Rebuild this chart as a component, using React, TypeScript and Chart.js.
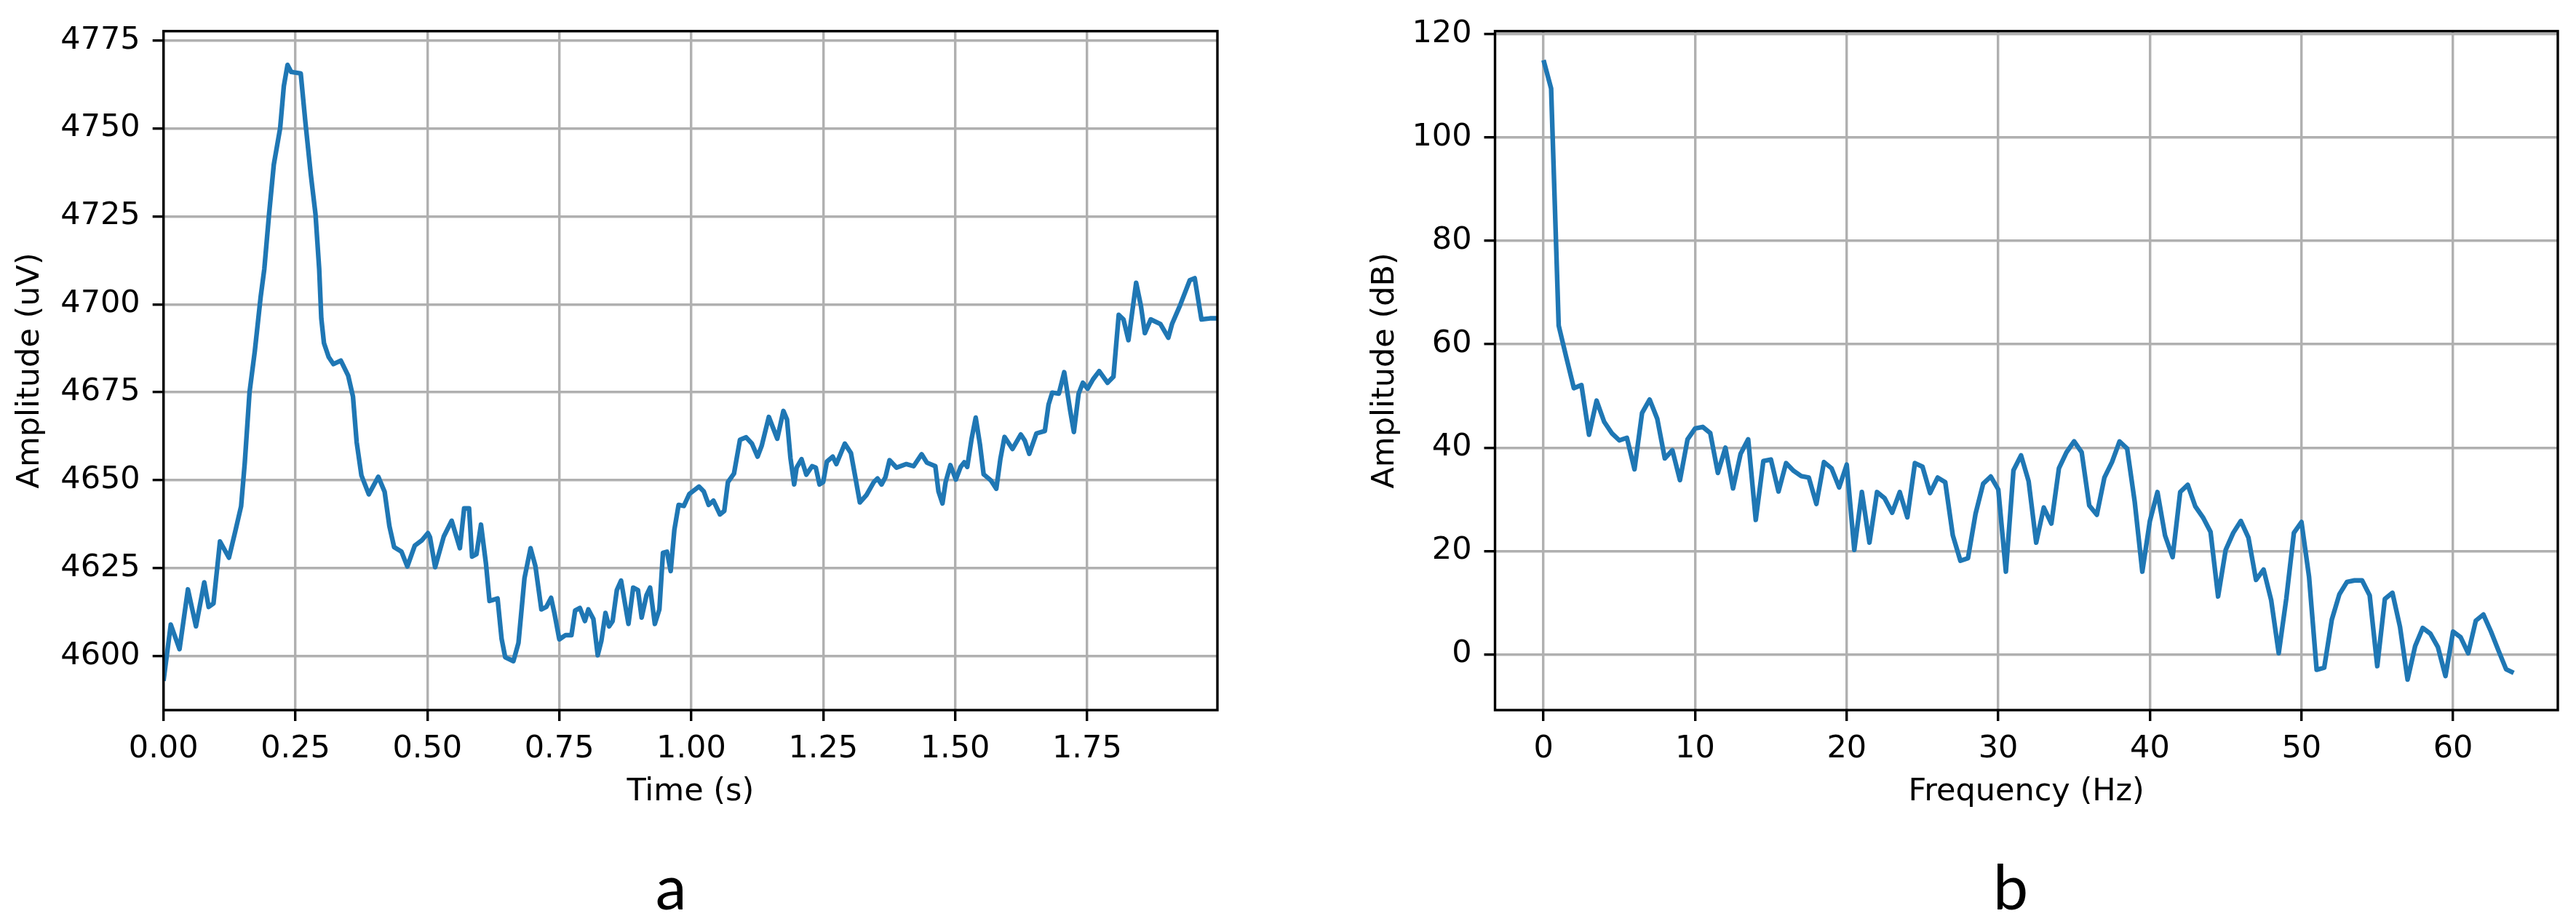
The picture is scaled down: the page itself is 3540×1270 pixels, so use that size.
import React, { useEffect, useRef } from "react";
import { Chart, registerables } from "chart.js";

Chart.register(...registerables);

// ---- Panel a: EEG signal in time domain ----
const timeSec = [
  0.0, 0.0138, 0.0303, 0.0463, 0.0615, 0.0772, 0.0855, 0.0947, 0.107, 0.124,
  0.136, 0.147, 0.154, 0.163, 0.173, 0.184, 0.191, 0.2, 0.209, 0.221,
  0.228, 0.235, 0.242, 0.26, 0.269, 0.279, 0.288, 0.295, 0.299, 0.304,
  0.313, 0.322, 0.336, 0.35, 0.359, 0.366, 0.375, 0.389, 0.407, 0.419,
  0.428, 0.437, 0.451, 0.462, 0.476, 0.49, 0.501, 0.505, 0.5147, 0.531,
  0.546, 0.5616, 0.5696, 0.579, 0.5847, 0.593, 0.6016, 0.611, 0.6177, 0.633,
  0.6406, 0.6475, 0.663, 0.6726, 0.684, 0.6955, 0.7047, 0.716, 0.7253, 0.7344,
  0.741, 0.75, 0.762, 0.773, 0.78, 0.789, 0.7985, 0.805, 0.8145, 0.8228,
  0.8297, 0.8375, 0.8443, 0.851, 0.859, 0.867, 0.881, 0.89, 0.899, 0.906,
  0.9153, 0.922, 0.931, 0.9396, 0.9464, 0.954, 0.961, 0.968, 0.976, 0.986,
  0.9963, 1.0146, 1.0238, 1.033, 1.042, 1.0544, 1.0626, 1.0695, 1.081, 1.0923,
  1.104, 1.115, 1.1257, 1.1335, 1.147, 1.163, 1.1746, 1.1814, 1.188, 1.195,
  1.1997, 1.209, 1.218, 1.229, 1.236, 1.243, 1.25, 1.257, 1.268, 1.275,
  1.291, 1.3026, 1.3117, 1.3195, 1.332, 1.346, 1.353, 1.3606, 1.368, 1.3757,
  1.389, 1.4077, 1.4214, 1.4365, 1.4465, 1.4625, 1.4685, 1.476, 1.482, 1.491,
  1.5014, 1.5105, 1.5173, 1.523, 1.531, 1.539, 1.547, 1.554, 1.5675, 1.578,
  1.5858, 1.5936, 1.6086, 1.6245, 1.632, 1.6405, 1.654, 1.67, 1.677, 1.684,
  1.6966, 1.7067, 1.718, 1.725, 1.734, 1.742, 1.751, 1.7614, 1.773, 1.7888,
  1.8, 1.81, 1.819, 1.8284, 1.843, 1.852, 1.8595, 1.8706, 1.889, 1.904,
  1.911, 1.926, 1.9445, 1.954, 1.9667, 1.983, 1.997,
];

const amplitudeUv = [
  4593, 4609, 4602, 4619, 4608.5, 4621, 4614, 4615, 4632.6, 4628,
  4635.5, 4642.6, 4655, 4675, 4686.7, 4702, 4710, 4725.6, 4739.7, 4750,
  4762, 4768, 4766, 4765.6, 4751.5, 4737, 4725.6, 4710, 4696, 4689,
  4685, 4683, 4684, 4679.7, 4673.8, 4660.8, 4651.4, 4646, 4651, 4646.7,
  4637, 4631, 4629.7, 4625.5, 4631.4, 4633, 4635, 4633.8, 4625.3, 4634,
  4638.5, 4630.7, 4642, 4642, 4628.3, 4629, 4637.4, 4626.3, 4615.7, 4616.4,
  4605, 4599.7, 4598.6, 4603.8, 4622.2, 4630.7, 4625.6, 4613.3, 4614, 4616.6,
  4612, 4604.8, 4606, 4606, 4613, 4613.7, 4610, 4613.3, 4610.6, 4600.3,
  4604.4, 4612.3, 4608.5, 4610, 4618.8, 4621.5, 4609.2, 4619.5, 4618.8, 4611,
  4617.4, 4619.5, 4609.2, 4613.3, 4629.4, 4629.7, 4624.2, 4635.9, 4643, 4642.7,
  4646.1, 4648.2, 4646.8, 4643, 4644.2, 4640.3, 4641.3, 4649.5, 4651.9, 4661.5,
  4662.2, 4660.4, 4656.7, 4659.8, 4668, 4661.8, 4669.7, 4667.3, 4656.3, 4648.8,
  4653.6, 4656, 4651.6, 4654, 4653.6, 4648.8, 4649.5, 4655.3, 4656.7, 4654.6,
  4660.4, 4657.7, 4650.2, 4643.7, 4645.8, 4649.5, 4650.5, 4648.8, 4650.9, 4655.7,
  4653.6, 4654.6, 4654, 4657.4, 4655, 4654, 4646.8, 4643.4, 4649.5, 4654.3,
  4650.2, 4653.8, 4655.1, 4653.8, 4661.6, 4667.8, 4660.2, 4651.7, 4650, 4647.6,
  4656.1, 4662.3, 4658.9, 4663, 4661.3, 4657.5, 4663.3, 4664, 4671.5, 4674.9,
  4674.6, 4680.7, 4669.8, 4663.7, 4674.6, 4677.7, 4676, 4678.7, 4681, 4677.7,
  4679.4, 4697, 4695.7, 4689.8, 4706.1, 4699.6, 4691.8, 4695.7, 4694.4, 4690.5,
  4694.4, 4699.6, 4706.8, 4707.4, 4695.7, 4696, 4696,
];

// ---- Panel b: spectrum ----
const freqHz = [
  0, 0.5, 1, 1.5, 2, 2.5, 3, 3.5, 4, 4.5, 5, 5.5, 6, 6.5, 7, 7.5, 8, 8.5, 9, 9.5,
  10, 10.5, 11, 11.5, 12, 12.5, 13, 13.5, 14, 14.5, 15, 15.5, 16, 16.5, 17, 17.5, 18, 18.5, 19, 19.5,
  20, 20.5, 21, 21.5, 22, 22.5, 23, 23.5, 24, 24.5, 25, 25.5, 26, 26.5, 27, 27.5, 28, 28.5, 29, 29.5,
  30, 30.5, 31, 31.5, 32, 32.5, 33, 33.5, 34, 34.5, 35, 35.5, 36, 36.5, 37, 37.5, 38, 38.5, 39, 39.5,
  40, 40.5, 41, 41.5, 42, 42.5, 43, 43.5, 44, 44.5, 45, 45.5, 46, 46.5, 47, 47.5, 48, 48.5, 49, 49.5,
  50, 50.5, 51, 51.5, 52, 52.5, 53, 53.5, 54, 54.5, 55, 55.5, 56, 56.5, 57, 57.5, 58, 58.5, 59, 59.5,
  60, 60.5, 61, 61.5, 62, 62.5, 63, 63.5, 64,
];

const amplitudeDb = [
  115, 109.5, 63.6, 57.5, 51.5, 52.1, 42.5, 49.1, 45, 42.8, 41.4, 41.9, 35.8, 46.7, 49.3, 45.6, 37.9, 39.5, 33.7, 41.6,
  43.7, 44, 42.8, 35.1, 40, 32.1, 38.8, 41.6, 26, 37.4, 37.7, 31.5, 37, 35.5, 34.5, 34.2, 29.1, 37.2, 36, 32.3,
  36.7, 20.2, 31.4, 21.6, 31.4, 30.2, 27.4, 31.4, 26.5, 37, 36.3, 31.2, 34.2, 33.3, 23, 18.1, 18.6, 27.2, 33, 34.4,
  31.9, 16, 35.6, 38.5, 33.5, 21.6, 28.4, 25.3, 36, 39.1, 41.2, 39.1, 28.8, 27, 34.2, 37.2, 41.2, 39.8, 29.5, 16,
  25.8, 31.4, 23, 18.8, 31.4, 32.8, 28.6, 26.5, 23.7, 11.2, 20.2, 23.5, 25.8, 22.6, 14.4, 16.4, 10.5, 0.2, 10.8, 23.5,
  25.6, 15, -3, -2.6, 6.7, 11.6, 14, 14.3, 14.3, 11.4, -2.3, 10.7, 11.9, 5.3, -4.9, 1.6, 5.1, 4, 1.4, -4.2,
  4.4, 3.3, 0.2, 6.5, 7.7, 4.4, 0.7, -2.9, -3.6,
];

const FONT_FAMILY = "'DejaVu Sans', sans-serif";
const LINE_COLOR = "#1f77b4";

const framePlugin = {
  id: "frame",
  afterDraw(chart: any) {
    const { ctx, chartArea: a } = chart;
    ctx.save();
    ctx.strokeStyle = "#000";
    ctx.lineWidth = 3.4;
    ctx.strokeRect(a.left, a.top, a.right - a.left, a.bottom - a.top);
    ctx.restore();
  },
};

const gridOpts = {
  color: "#b0b0b0",
  lineWidth: 3.4,
  tickColor: "#000",
  tickWidth: 3.4,
  tickLength: 15,
  drawTicks: true,
};

function makeConfig(p: {
  xs: number[];
  ys: number[];
  xMin: number;
  xMax: number;
  xStep: number;
  xFmt: (v: number) => string;
  yMin: number;
  yMax: number;
  yStep: number;
  xTitle: string;
  yTitle: string;
  yAxisWidth: number;
  rightPad: number;
  yTitlePad: number;
}): any {
  const font = { family: FONT_FAMILY, size: 43 };
  return {
    type: "line",
    data: {
      datasets: [
        {
          data: p.xs.map((x, i) => ({ x, y: p.ys[i] })),
          borderColor: LINE_COLOR,
          borderWidth: 6.4,
          pointRadius: 0,
          tension: 0,
          fill: false,
          borderJoinStyle: "round",
          borderCapStyle: "butt",
        },
      ],
    },
    options: {
      responsive: false,
      animation: false,
      events: [],
      layout: { padding: { left: 0, top: 34, right: p.rightPad, bottom: 0 } },
      plugins: { legend: { display: false }, tooltip: { enabled: false } },
      scales: {
        x: {
          type: "linear",
          min: p.xMin,
          max: p.xMax,
          grid: gridOpts,
          border: { display: false },
          ticks: {
            stepSize: p.xStep,
            includeBounds: false,
            autoSkip: false,
            maxRotation: 0,
            minRotation: 0,
            padding: 13,
            color: "#000",
            font,
            callback: (v: any) => p.xFmt(Number(v)),
          },
          title: {
            display: true,
            text: p.xTitle,
            color: "#000",
            font,
            padding: { top: 0, bottom: 155 },
          },
          afterFit: (s: any) => {
            s.height = 294;
          },
        },
        y: {
          type: "linear",
          min: p.yMin,
          max: p.yMax,
          grid: gridOpts,
          border: { display: false },
          ticks: {
            stepSize: p.yStep,
            includeBounds: false,
            padding: 17,
            color: "#000",
            font,
            callback: (v: any) => String(Math.round(Number(v))),
          },
          title: {
            display: true,
            text: p.yTitle,
            color: "#000",
            font,
            padding: { top: p.yTitlePad, bottom: 0 },
          },
          afterFit: (s: any) => {
            s.width = p.yAxisWidth;
          },
        },
      },
    },
    plugins: [framePlugin],
  };
}

export default function App() {
  const refA = useRef<HTMLCanvasElement | null>(null);
  const refB = useRef<HTMLCanvasElement | null>(null);

  useEffect(() => {
    const chartA = new Chart(
      refA.current as HTMLCanvasElement,
      makeConfig({
        xs: timeSec,
        ys: amplitudeUv,
        xMin: 0,
        xMax: 1.997,
        xStep: 0.25,
        xFmt: (v) => v.toFixed(2),
        yMin: 4584.7,
        yMax: 4777.6,
        yStep: 25,
        xTitle: "Time (s)",
        yTitle: "Amplitude (uV)",
        yAxisWidth: 224.7,
        rightPad: 87,
        yTitlePad: 16,
      })
    );
    const chartB = new Chart(
      refB.current as HTMLCanvasElement,
      makeConfig({
        xs: freqHz,
        ys: amplitudeDb,
        xMin: -3.2,
        xMax: 66.91,
        xStep: 10,
        xFmt: (v) => String(Math.round(v)),
        yMin: -10.8,
        yMax: 120.6,
        yStep: 20,
        xTitle: "Frequency (Hz)",
        yTitle: "Amplitude (dB)",
        yAxisWidth: 294.5,
        rightPad: 25,
        yTitlePad: 117.7,
      })
    );
    return () => {
      chartA.destroy();
      chartB.destroy();
    };
  }, []);

  const letterStyle = (center: number): React.CSSProperties => ({
    position: "absolute",
    left: center - 100,
    width: 200,
    top: 1173.7,
    textAlign: "center",
    fontFamily: "Lato, 'Open Sans', sans-serif",
    fontSize: 86,
    lineHeight: "86px",
    color: "#000",
  });

  return (
    <div
      style={{
        position: "fixed",
        left: 0,
        top: 0,
        width: 3540,
        height: 1270,
        background: "#fff",
        overflow: "hidden",
      }}
    >
      <canvas
        ref={refA}
        width={1760}
        height={1270}
        style={{ position: "absolute", left: 0, top: 0, width: 1760, height: 1270 }}
      />
      <canvas
        ref={refB}
        width={1780}
        height={1270}
        style={{ position: "absolute", left: 1760, top: 0, width: 1780, height: 1270 }}
      />
      <div style={letterStyle(922)}>a</div>
      <div style={letterStyle(2763)}>b</div>
    </div>
  );
}
